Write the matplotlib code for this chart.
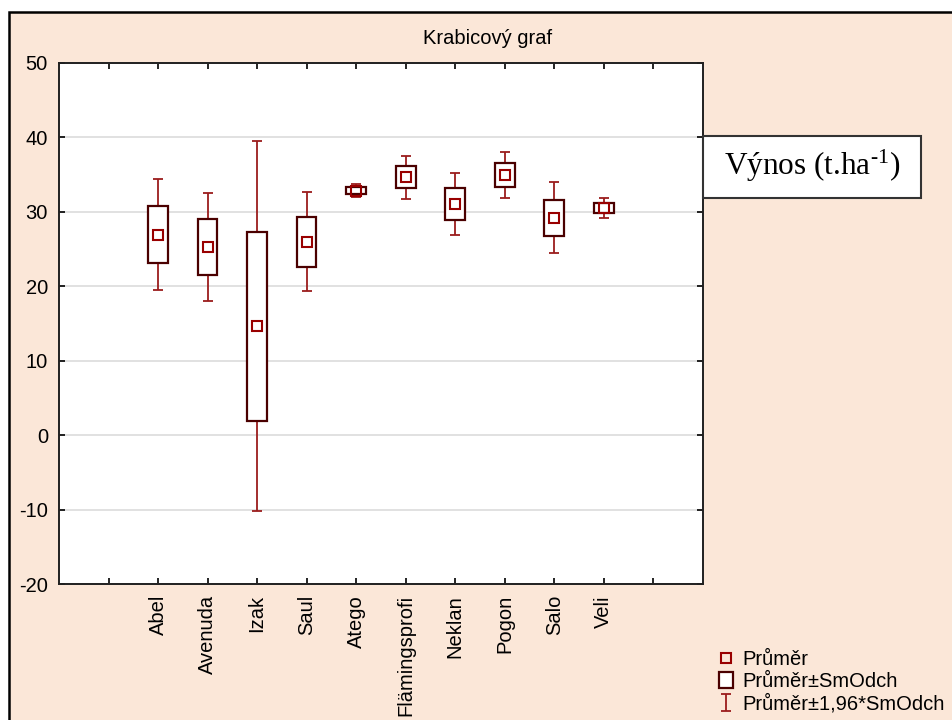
import numpy as np
import matplotlib
matplotlib.use("Agg")
import matplotlib.pyplot as plt
from matplotlib.patches import Rectangle
from matplotlib.legend_handler import HandlerErrorbar

plt.rcParams['font.family'] = ['Liberation Sans', 'DejaVu Sans']
plt.rcParams['axes.unicode_minus'] = False
plt.rcParams['mathtext.fontset'] = 'custom'
plt.rcParams['mathtext.rm'] = 'Liberation Serif'
plt.rcParams['mathtext.it'] = 'Liberation Serif:italic'

# ---- data ----
categories = ["Abel", "Avenuda", "Izak", "Saul", "Atego", "Flämingsprofi",
              "Neklan", "Pogon", "Salo", "Veli"]
means = [26.93, 25.28, 14.64, 25.97, 32.85, 34.65, 31.05, 34.95, 29.24, 30.55]
sds = [3.80, 3.72, 12.70, 3.40, 0.45, 1.47, 2.15, 1.55, 2.42, 0.69]
yticks = [-20, -10, 0, 10, 20, 30, 40, 50]

title = "Krabicový graf"
var_label = r"Výnos (t.ha$^{\text{-1}}$)"
leg_labels = ["Průměr", "Průměr±SmOdch", "Průměr±1,96*SmOdch"]

peach = '#FBE7D8'
box_col = '#4a0000'
whisk_col = '#9b1c1c'
mean_col = '#990000'

W, H = 953, 720
fig = plt.figure(figsize=(W / 100, H / 100), dpi=100, facecolor='white')

# peach frame with black top/left border
fig.add_artist(Rectangle((9 / W, -0.2), 1.2, (H - 12) / H + 0.2,
                         transform=fig.transFigure, facecolor=peach,
                         edgecolor='black', lw=1.8, zorder=0))

ax = fig.add_axes([59 / W, (H - 584) / H, (702.7 - 59) / W, (584 - 63) / H])
ax.set_facecolor('white')

x = np.arange(1, len(categories) + 1)
means_a = np.array(means)
sds_a = np.array(sds)

eb = ax.errorbar(x, means_a, yerr=1.96 * sds_a, fmt='none', ecolor=whisk_col,
                 elinewidth=1.3, capsize=3.6, capthick=1.3, zorder=2,
                 label=leg_labels[2])
bars = ax.bar(x, 2 * sds_a, bottom=means_a - sds_a, width=0.4,
              facecolor='white', edgecolor=box_col, linewidth=1.6, zorder=3,
              label=leg_labels[1])
mline, = ax.plot(x, means_a, 's', ls='none', mfc='none', mec=mean_col,
                 ms=7.5, mew=1.5, zorder=4, label=leg_labels[0])

ax.set_xlim(-1, 12)
ax.set_ylim(-20, 50)
ax.set_yticks(yticks)
ax.set_yticklabels([str(v) for v in yticks])
ax.set_xticks(np.arange(0, 12))
ax.set_xticklabels([""] + categories + [""], rotation=90, va='top', ha='center')
ax.yaxis.grid(True, color='#dcdcdc', lw=1.2)
ax.set_axisbelow(True)
ax.tick_params(axis='both', direction='in', length=4, width=1.2,
               top=True, right=True, labelsize=14.5, colors='black')
ax.tick_params(axis='y', pad=8)
ax.tick_params(axis='x', pad=8)
for s in ax.spines.values():
    s.set_linewidth(1.4)
    s.set_color('#202020')

fig.text(488 / W, 1 - 38 / H, title, ha='center', va='center', fontsize=14.5)

# variable label box
fig.add_artist(Rectangle((702.7 / W, 1 - 198 / H), (921 - 702.7) / W, 62 / H,
                         transform=fig.transFigure, facecolor='white',
                         edgecolor='#333333', lw=1.5, zorder=5))
fig.text(812.5 / W, 1 - 175 / H, var_label, ha='center', va='baseline',
         fontsize=22.5, family='Liberation Serif', zorder=6)

leg = fig.legend(handles=[mline, bars, eb], labels=leg_labels,
                 loc='lower left', bbox_to_anchor=(719 / W, 6 / H),
                 frameon=False, fontsize=14.5, borderpad=0, borderaxespad=0,
                 labelspacing=0.15, handlelength=0.7, handleheight=0.85,
                 handletextpad=0.45,
                 handler_map={type(eb): HandlerErrorbar(xerr_size=0.35, yerr_size=0.42)})

fig.savefig("out.png", dpi=100, facecolor=fig.get_facecolor())
